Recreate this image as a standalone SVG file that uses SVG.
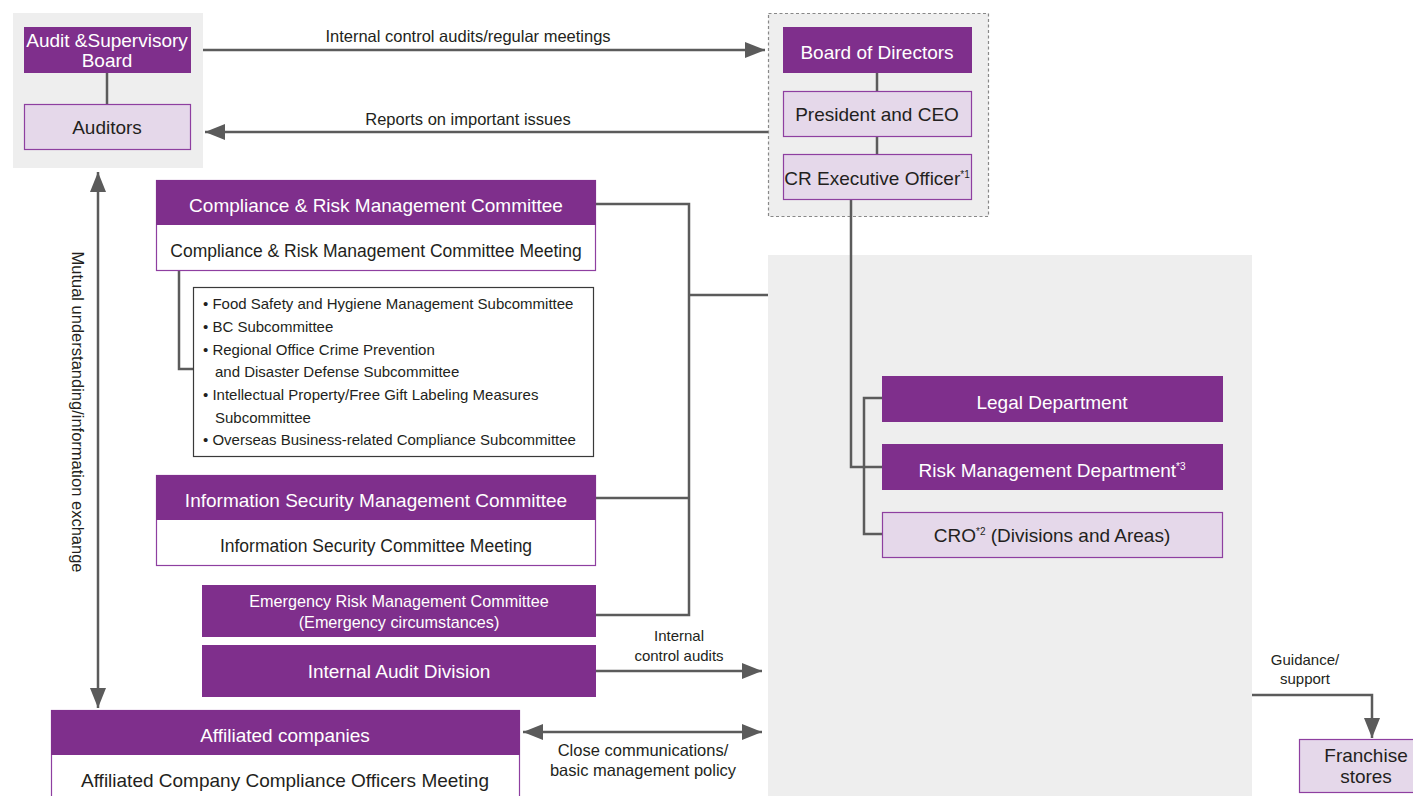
<svg xmlns="http://www.w3.org/2000/svg" width="1413" height="796" viewBox="0 0 1413 796">
<style>
text{font-family:"Liberation Sans",Arial,sans-serif;fill:#231f20}
.dk{fill:#7f2f8c}
.lt{fill:#e5d8ea;stroke:#8e3fa0;stroke-width:1.2}
.wh{fill:#fff;stroke:#8e3fa0;stroke-width:1.2}
.w{fill:#fff}
.n{font-size:19px;text-anchor:middle}
.m{font-size:17.5px;text-anchor:middle}
.s{font-size:15px}
.l{font-size:16.5px}
.c{text-anchor:middle}
.ln{fill:none;stroke:#5b5b5b;stroke-width:2.5}
.sup{font-size:10px}
</style>
<defs>
<marker id="ah" viewBox="0 0 20 16" refX="20" refY="8" markerWidth="20" markerHeight="16" markerUnits="userSpaceOnUse" orient="auto-start-reverse">
<path d="M0,0 L20,8 L0,16 z" fill="#5b5b5b"/>
</marker>
</defs>
<rect width="1413" height="796" fill="#fff"/>
<!-- backgrounds -->
<rect x="13" y="13" width="190" height="155" fill="#eeeeee"/>
<rect x="768.5" y="13.5" width="220" height="203" fill="#eeeeee" stroke="#888" stroke-width="1.2" stroke-dasharray="3,2.5"/>
<rect x="768" y="255" width="484" height="541" fill="#eeeeee"/>

<g id="connectors">
<line class="ln" x1="107" y1="73" x2="107" y2="104"/>
<line class="ln" x1="877" y1="73" x2="877" y2="91"/>
<line class="ln" x1="877" y1="136" x2="877" y2="154"/>
<path class="ln" d="M851,200 V467 H882"/>
<path class="ln" d="M882,398 H864 V534 H882"/>
<path class="ln" d="M595,204 H689 V615 H595 M595,498 H689 M689,295 H768"/>
<path class="ln" d="M179,270 V369 H193"/>
<line class="ln" x1="203" y1="50" x2="765" y2="50" marker-end="url(#ah)"/>
<line class="ln" x1="768" y1="132" x2="205" y2="132" marker-end="url(#ah)"/>
<line class="ln" x1="98" y1="172" x2="98" y2="708" marker-start="url(#ah)" marker-end="url(#ah)"/>
<line class="ln" x1="595" y1="671" x2="762" y2="671" marker-end="url(#ah)"/>
<line class="ln" x1="523" y1="732" x2="762" y2="732" marker-start="url(#ah)" marker-end="url(#ah)"/>
<path class="ln" d="M1252,695 H1372 V738" marker-end="url(#ah)"/>
<text class="l c" x="468" y="42">Internal control audits/regular meetings</text>
<text class="l c" x="468" y="125">Reports on important issues</text>
<text class="l c" transform="translate(72,412) rotate(90)">Mutual understanding/information exchange</text>
<text class="s c" x="679" y="641">Internal</text>
<text class="s c" x="679" y="661">control audits</text>
<text class="l c" x="643" y="756">Close communications/</text>
<text class="l c" x="643" y="776">basic management policy</text>
<text class="s c" x="1305" y="665">Guidance/</text>
<text class="s c" x="1305" y="684">support</text>
</g>

<g id="audit-board">
<rect class="dk" x="24" y="27" width="167" height="46"/>
<text class="n w" x="107" y="47">Audit &amp;Supervisory</text>
<text class="n w" x="107" y="67">Board</text>
</g>
<g id="auditors">
<rect class="lt" x="24.5" y="104.5" width="166" height="45"/>
<text class="n" x="107" y="134">Auditors</text>
</g>
<g id="board-directors">
<rect class="dk" x="783" y="27" width="189" height="46"/>
<text class="n w" x="877" y="59">Board of Directors</text>
</g>
<g id="president">
<rect class="lt" x="783.5" y="91.5" width="188" height="45"/>
<text class="n" x="877" y="121">President and CEO</text>
</g>
<g id="cr-officer">
<rect class="lt" x="783.5" y="154.5" width="188" height="45"/>
<text class="n" x="877" y="185">CR Executive Officer<tspan class="sup" dy="-7">*1</tspan></text>
</g>
<g id="compliance">
<rect class="wh" x="156.5" y="180.5" width="439" height="90"/>
<rect class="dk" x="156" y="180" width="440" height="45"/>
<text class="n w" x="376" y="212">Compliance &amp; Risk Management Committee</text>
<text class="m" x="376" y="257">Compliance &amp; Risk Management Committee Meeting</text>
</g>
<g id="subcommittees">
<rect x="193.5" y="287.5" width="400" height="169" fill="#fff" stroke="#3a3a3a" stroke-width="1.2"/>
<text class="s" x="203" y="309">• Food Safety and Hygiene Management Subcommittee</text>
<text class="s" x="203" y="332">• BC Subcommittee</text>
<text class="s" x="203" y="355">• Regional Office Crime Prevention</text>
<text class="s" x="215" y="377">and Disaster Defense Subcommittee</text>
<text class="s" x="203" y="400">• Intellectual Property/Free Gift Labeling Measures</text>
<text class="s" x="215" y="423">Subcommittee</text>
<text class="s" x="203" y="445">• Overseas Business-related Compliance Subcommittee</text>
</g>
<g id="info-security">
<rect class="wh" x="156.5" y="475.5" width="439" height="90"/>
<rect class="dk" x="156" y="475" width="440" height="45"/>
<text class="n w" x="376" y="507">Information Security Management Committee</text>
<text class="m" x="376" y="552">Information Security Committee Meeting</text>
</g>
<g id="emergency">
<rect class="dk" x="202" y="585" width="394" height="52"/>
<text class="c w" font-size="16.2" x="399" y="607">Emergency Risk Management Committee</text>
<text class="c w" font-size="16.2" x="399" y="628">(Emergency circumstances)</text>
</g>
<g id="internal-audit">
<rect class="dk" x="202" y="645" width="394" height="52"/>
<text class="n w" x="399" y="678">Internal Audit Division</text>
</g>
<g id="affiliated">
<rect class="wh" x="51.5" y="710.5" width="468" height="95"/>
<rect class="dk" x="51" y="710" width="469" height="45"/>
<text class="n w" x="285" y="742">Affiliated companies</text>
<text class="n" x="285" y="787">Affiliated Company Compliance Officers Meeting</text>
</g>
<g id="legal">
<rect class="dk" x="882" y="376" width="341" height="46"/>
<text class="n w" x="1052" y="409">Legal Department</text>
</g>
<g id="risk-mgmt">
<rect class="dk" x="882" y="444" width="341" height="46"/>
<text class="n w" x="1052" y="477">Risk Management Department<tspan class="sup" dy="-7">*3</tspan></text>
</g>
<g id="cro">
<rect class="lt" x="882.5" y="512.5" width="340" height="45"/>
<text class="n" x="1052" y="542">CRO<tspan class="sup" dy="-7">*2</tspan><tspan dy="7"> (Divisions and Areas)</tspan></text>
</g>
<g id="franchise">
<rect class="lt" x="1299.5" y="739.5" width="120" height="53"/>
<text class="n" x="1366" y="762">Franchise</text>
<text class="n" x="1366" y="783">stores</text>
</g>
</svg>
